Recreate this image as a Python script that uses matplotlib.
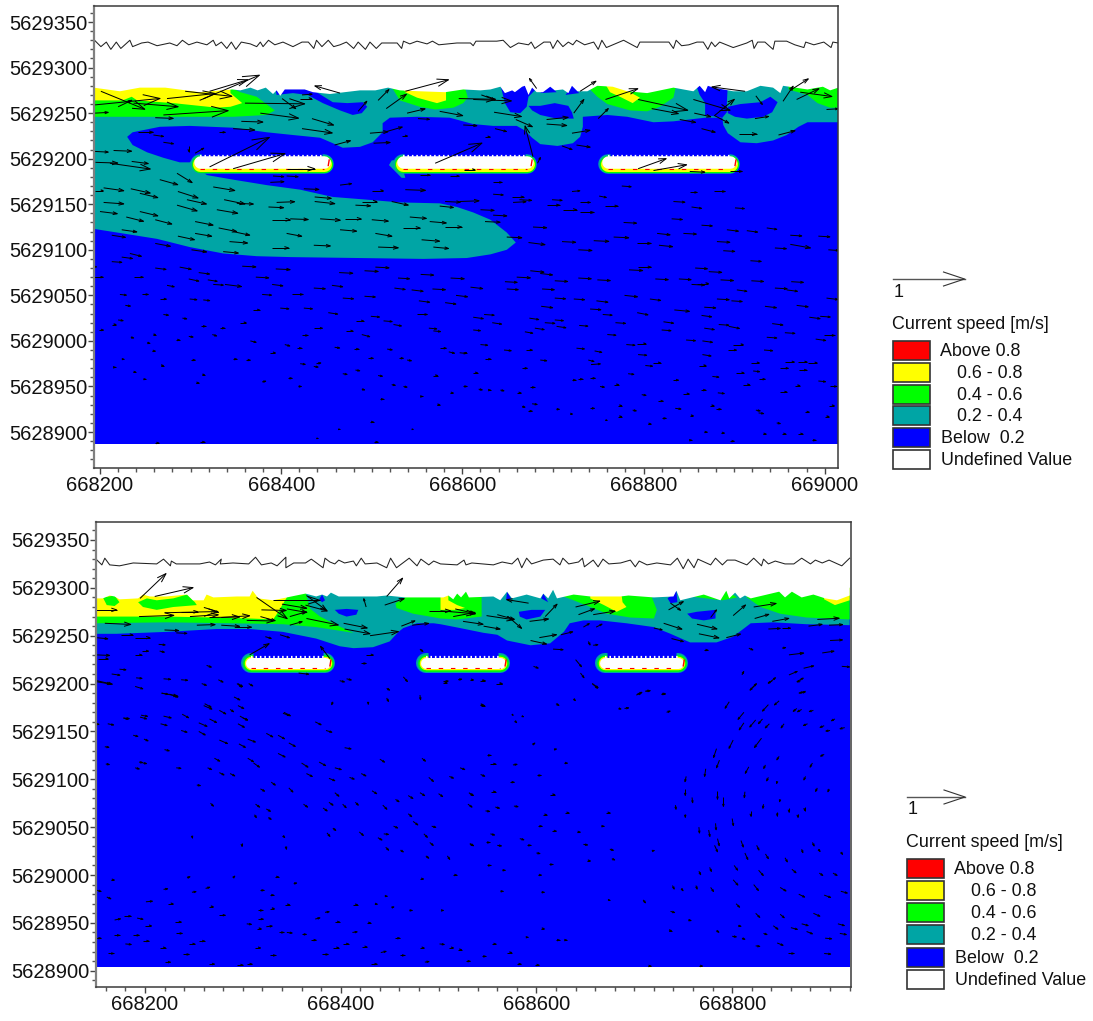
import numpy as np
import matplotlib
matplotlib.use('Agg')
import matplotlib.pyplot as plt
from matplotlib.collections import LineCollection
from matplotlib.patches import Polygon, Rectangle
from matplotlib.ticker import MultipleLocator

plt.rcParams['font.family'] = ['Liberation Sans', 'DejaVu Sans']

# all positions below are metres from this origin
EAST0 = 668000
NORTH0 = 5628900

RED = '#ff0000'
YELLOW = '#ffff00'
GREEN = '#00ff00'
TEAL = '#00a5a5'
BLUE = '#0000ff'

legend_labels = ['Above 0.8', '0.6 - 0.8', '0.4 - 0.6', '0.2 - 0.4', 'Below  0.2', 'Undefined Value']
legend_colors = [RED, YELLOW, GREEN, TEAL, BLUE, '#ffffff']

top_xticks = [668200, 668400, 668600, 668800, 669000]
bottom_xticks = [668200, 668400, 668600, 668800]
yticks = [5628900, 5628950, 5629000, 5629050, 5629100, 5629150, 5629200, 5629250, 5629300, 5629350]

# ---------- upper panel ----------
top_shore = [(193,378),(222,374),(244,378),(272,378),(310,373),(346,376),(355,375),(366,378),(374,375),(383,378),(391,371),(395,375),(399,369),(404,376),(426,376),(435,373),(454,371),(470,373),(487,375),(504,375),(518,378),(531,375),(553,374),(581,373),(601,376),(620,375),(631,376),(642,379),(647,372),(655,375),(658,373),(666,379),(669,380),(673,370),(677,378),(682,373),(689,373),(697,379),(702,375),(711,376),(717,372),(721,380),(727,374),(738,374),(749,380),(766,379),(782,374),(804,372),(833,378),(855,374),(862,380),(868,373),(871,380),(877,378),(899,374),(914,374),(929,380),(943,378),(951,372),(954,380),(981,376),(998,379),(1006,375),(1015,378)]
top_line_e = [194,201,207,212,218,223,233,236,246,253,263,277,285,291,298,307,318,325,328,334,340,345,350,356,366,373,377,380,386,393,402,413,423,430,436,439,445,452,458,465,472,480,485,493,498,505,511,528,533,535,542,550,561,567,574,594,609,612,615,638,645,653,662,673,676,680,690,697,700,705,711,717,722,726,735,745,750,754,759,778,793,796,813,828,833,836,842,850,859,866,871,875,879,884,899,914,920,922,926,934,943,945,958,967,977,979,988,999,1007,1009,1015]
top_line_n = [430,423,428,420,428,421,430,423,427,428,424,427,424,430,425,428,425,430,424,428,421,428,420,428,426,423,428,423,430,425,428,423,428,428,421,430,423,430,423,425,428,421,428,420,428,421,427,427,421,429,426,429,426,429,425,427,427,424,429,429,430,422,427,425,428,421,428,428,421,430,423,428,425,430,425,428,420,430,422,430,422,428,428,428,421,430,424,425,428,428,420,428,423,428,422,427,430,421,428,428,420,429,429,425,422,428,425,428,422,428,427]

top_teal = [(193,385),(1015,385),(1015,340),(981,340),(971,335),(958,326),(943,320),(925,317),(907,318),(893,328),(888,337),(887,345),(868,345),(833,341),(811,340),(782,346),(760,348),(733,346),(733,335),(730,324),(722,317),(705,314),(686,316),(677,323),(669,331),(660,336),(634,336),(612,338),(586,345),(550,346),(520,345),(512,339),(512,329),(501,318),(487,313),(468,312),(457,317),(443,323),(413,326),(384,329),(347,334),(299,336),(266,335),(236,329),(230,324),(236,315),(252,307),(270,301),(288,296),(299,296),(307,302),(307,290),(318,282),(347,277),(384,271),(421,266),(457,258),(495,255),(531,252),(575,251),(594,247),(612,241),(631,233),(649,219),(659,208),(649,200),(631,195),(605,191),(557,190),(484,191),(410,192),(373,193),(336,196),(299,203),(263,212),(225,218),(193,223)]
top_teal_blob = [(522,298),(528,299),(534,290),(537,279),(533,279),(525,287),(519,293)]
top_blue = [
    [(393,381),(426,381),(457,362),(473,361),(490,362),(495,357),(489,350),(479,348),(465,353),(446,361),(429,370),(413,372),(395,370)],
    [(642,381),(686,381),(673,368),(671,357),(664,350),(653,351),(647,361)],
    [(714,370),(721,381),(729,372)],
    [(686,372),(697,381),(704,373)],
    [(673,358),(686,358),(702,361),(717,358),(721,351),(723,344),(704,344),(686,348),(677,353)],
    [(858,381),(893,381),(892,361),(892,351),(887,345),(868,348),(868,361),(862,370)],
    [(893,357),(907,360),(929,362),(940,368),(948,362),(942,351),(932,346),(914,344),(901,346),(893,350)],
]
top_green = [
    [(193,385),(340,385),(344,378),(355,373),(373,368),(393,353),(384,348),(347,346),(274,346),(219,346),(193,346)],
    [(518,385),(531,364),(553,357),(570,354),(590,356),(601,361),(606,367),(601,385)],
    [(739,385),(739,378),(749,368),(760,360),(785,353),(804,352),(818,357),(833,367),(837,385)],
    [(960,385),(960,376),(981,370),(992,361),(1006,356),(1015,356),(1015,385)],
]
top_yellow = [
    [(193,385),(344,385),(344,372),(357,361),(344,357),(329,356),(281,361),(241,364),(235,368),(225,364),(193,364)],
    [(531,385),(582,385),(582,364),(572,361),(550,367),(537,373)],
    [(756,385),(771,385),(785,373),(796,367),(788,361),(776,367),(763,373)],
]
top_wall_start = [310, 534, 761]
top_wall_end = [447, 671, 896]
top_wall_n = 296
top_blue_bottom = -13
top_blue_top = 385

# arrows: east, north, u [m/s], v [m/s]
top_arrows_band = [(201,374,.61,-.25),(194,359,.91,.09),(220,357,.19,.09),(194,350,.19,.01),(237,361,.62,-.05),(274,366,.67,.07),(294,374,.65,-.07),(310,364,.83,.35),(321,374,.53,.16),(270,348,.90,.06),(261,345,.25,-.01),(360,361,.83,-.01),(377,350,.53,-.07),(401,366,.19,-.14),(423,370,.14,.01),(421,366,.16,0),(465,372,-.35,.10),(434,344,.30,-.09),(423,333,.42,-.06),(356,341,.30,-.01),(347,333,.30,-.02),(459,315,.22,.06),(485,352,.12,.14),(507,364,.15,.15),(516,355,.28,.20),(537,374,.60,.16),(539,350,.25,.06),(498,328,.25,.02),(517,330,.21,.06),(502,317,.23,.01),(533,325,.08,0),(551,344,.16,-.01),(321,291,.83,.41),(347,289,.72,.21),(305,306,.12,.07),(298,314,0,-.08),(406,289,.39,0),(242,329,.21,0),(259,326,.14,-.02),(270,318,.14,-.02),(331,329,.09,0),
    (596,366,.51,-.01),(612,365,.53,-.02),(621,370,.19,-.07),(575,352,.32,-.06),(635,351,.38,-.06),(659,343,.23,-.10),(693,343,.30,.03),(693,338,.28,-.02),(721,328,.25,.04),(678,302,-.11,.43),(683,295,.04,.08),(570,295,.65,.28),(625,324,.07,0),(723,350,.14,.19),(730,374,.22,.14),(750,344,.14,.14),(758,365,.45,.15),(794,365,.69,-.15),(809,355,.37,-.07),(840,343,.22,-.04),(855,365,.51,-.15),(864,333,.19,-.05),(905,327,.25,0),(949,326,.23,.06),(923,344,.19,.03),(924,369,.09,-.12),(878,347,.28,.23),(879,347,.19,-.10),(856,350,.23,-.05),(912,374,-.46,.06),(954,363,.14,.21),(962,375,.25,.16),(969,365,.31,.15),(973,373,.44,-.06),(1002,354,.16,.01),(682,377,-.10,.14),(601,337,.19,-.01),(636,333,.16,-.04),(710,314,.14,-.05),(726,315,.19,-.03),(794,289,.39,.14),(811,287,.46,.08),(851,286,.21,-.01),(896,286,.16,0)]
top_arrows_plume = [(215,309,.25,-.01),(194,308,.19,-.01),(195,296,.31,-.01),(211,295,.56,-.08),(235,297,.23,-.03),(285,284,.21,-.13),(266,277,.25,-.07),(194,265,.12,0),(204,268,.28,-.04),(234,267,.27,-.06),(244,262,.25,-.06),(286,264,.28,-.09),(296,255,.27,-.06),(325,269,.30,-.05),(337,255,.29,-.06),(351,251,.23,-.01),(395,252,.25,.01),(386,247,.21,-.01),(437,258,.23,-.02),(437,253,.28,-.03),(204,252,.28,-.02),(200,242,.24,-.03),(244,242,.25,-.06),(229,236,.24,-.06),(261,233,.23,-.06),(285,249,.28,-.08),(329,244,.29,-.05),(305,231,.25,-.05),(390,233,.25,0),(410,234,.25,-.01),(331,224,.25,-.05),(347,220,.23,-.05),(470,234,.23,0),(500,233,.23,-.02),(443,234,.28,-.02),(465,222,.23,-.02),(406,218,.21,-.04),(504,218,.23,-.04),(535,224,.23,0),(224,222,.21,-.03),(305,218,.23,-.04),(286,215,.23,-.05),(343,209,.25,-.02),(390,202,.23,0),(436,205,.23,-.01),(507,203,.28,-.01),(261,207,.21,-.04),(213,216,.19,-.03),(301,200,.21,-.03),(336,198,.21,-.02),(555,211,.25,-.02),(568,203,.21,-.02),(542,236,.23,-.02),(564,231,.23,-.02),(522,253,.23,-.05),(489,253,.21,0),(482,249,.21,-.01),(537,266,.28,-.01),(500,265,.16,0),(465,271,.16,.02),(425,267,.21,-.01),(388,274,.19,.01),(391,281,.15,-.01),(406,281,.16,-.01),(553,282,.14,0)]
top_arrows_mid = [(586,281,.13,0),(634,274,.12,0),(602,288,.15,0),(634,261,.14,-.01),(655,258,.16,0),(663,255,.17,-.01),(656,252,.18,.01),(721,264,.11,.01),(699,255,.14,-.01),(693,249,.18,0),(730,252,.14,0),(711,244,.19,0),(730,241,.19,0),(758,248,.17,0),(751,259,.10,-.02),(776,270,.13,-.01),(833,253,.16,-.01),(853,247,.14,-.02),(901,246,.13,-.01),(851,263,.10,0),(878,264,.15,0),(620,244,.19,-.01),(634,238,.19,-.01),(575,248,.19,-.02),(581,253,.21,-.01),(597,253,.27,.01),(778,230,.18,-.01),(831,234,.15,-.01),(864,227,.15,-.01),(892,222,.16,-.02),(914,221,.15,-.02),(936,224,.14,-.02),(678,225,.19,-.01),(625,231,.21,-.01),(581,225,.23,0),(649,214,.21,-.01),(673,208,.23,-.03),(710,209,.19,-.01),(728,200,.19,-.01),(745,210,.21,-.01),(767,214,.21,-.01),(793,207,.19,0),(817,205,.19,-.02),(881,209,.18,-.01),(844,218,.18,-.01),(815,218,.18,-.02),(962,216,.16,-.01),(945,202,.16,-.01),(962,206,.28,-.05),(993,215,.16,-.01),(888,199,.16,-.01),(918,188,.15,-.01),(1004,200,.14,-.01)]
top_arrows_west = [(233,196,.16,-.04),(224,192,.15,-.02),(213,187,.14,-.01),(189,182,.09,-.01),(193,170,.13,0),(238,170,.12,0),(261,180,.15,-.02),(288,181,.16,-.03),(309,175,.15,-.02),(298,168,.14,-.03),(319,167,.13,-.02),(325,162,.14,-.01),(338,162,.23,-.03),(274,161,.10,-.02),(357,182,.19,-.01),(372,170,.18,-.01),(394,179,.20,-.01),(390,162,.15,-.02),(436,158,.16,-.01),(456,161,.15,-.02),(464,175,.19,-.01),(492,177,.19,-.01),(504,181,.19,-.01),(529,169,.16,-.01),(554,173,.18,-.01),(587,169,.19,-.01),(525,158,.15,-.02),(544,156,.16,-.02),(567,157,.18,-.01),(593,150,.16,-.02),(552,144,.15,-.02),(581,142,.15,-.02),(492,149,.15,-.01),(468,147,.15,-.01),(412,151,.15,0),(379,151,.13,-.01),(222,151,.09,-.01),(246,151,.09,0),(266,146,.09,0),(299,146,.10,-.01),(314,145,.09,-.01),(228,139,.07,-.01),(270,129,.07,-.01),(291,125,.06,-.01),(220,123,.07,-.01),(213,118,.06,0),(199,112,.06,0),(311,116,.07,0),(332,114,.07,0),(355,120,.08,0),(369,134,.09,0),(399,136,.12,-.01),(425,136,.12,-.01),(452,131,.13,-.02),(483,122,.10,0),(499,127,.12,-.01),(513,122,.12,-.01),(524,118,.11,-.02),(550,129,.14,0),(563,114,.11,-.01),(568,111,.10,-.01),(436,114,.12,0),(472,111,.09,0),(489,107,.11,-.03),(423,106,.08,0),(324,107,.06,-.02),(298,105,.06,-.01),(366,100,.08,-.02),(404,96,.07,-.02),(417,92,.07,0),(459,93,.07,-.01),(480,91,.07,0),(517,91,.07,-.01),(575,92,.09,0),(585,88,.08,-.02),(597,87,.09,-.01),(388,87,.07,0),(301,79,.05,0),(347,80,.05,0),(361,79,.06,0),(224,80,.03,0),(214,71,.04,0),(267,73,.04,0),(421,75,.07,-.01),(436,72,.06,-.01),(439,75,.06,.01),(496,81,.07,0),(530,81,.06,0),(539,79,.06,-.01),(482,68,.06,-.01),(468,64,.06,-.01),(507,62,.06,-.01),(568,62,.06,0),(586,43,.05,0),(408,59,.05,0),(379,55,.05,.01),(306,54,.04,0),(237,66,.03,0),(248,58,.03,0),(313,63,.03,0),(259,107,.03,0),(284,101,.05,0),(252,98,.04,-.01),(234,104,.04,-.01),(257,89,.05,0),(419,50,.04,0),(489,47,.04,-.01),(522,52,.05,-.01),(535,50,.05,-.01),(553,39,.04,0),(509,36,.05,0),(572,30,.04,0),(498,11,.05,0),(463,3,.02,0),(544,3,.02,0),(439,-7,.02,0),(502,-11,.06,0),(310,-11,.07,0),(261,-12,.05,0),(601,50,.05,0)]
top_arrows_east = [(675,177,.19,-.02),(686,174,.17,-.02),(660,170,.19,-.01),(647,165,.17,-.01),(609,159,.17,-.02),(649,157,.16,-.01),(688,157,.17,-.01),(702,166,.18,-.01),(728,169,.18,-.01),(749,167,.18,-.01),(784,178,.19,-.01),(794,181,.18,0),(813,168,.18,-.01),(839,168,.17,-.01),(853,162,.18,-.01),(859,163,.16,0),(885,167,.18,-.01),(872,176,.18,-.01),(857,180,.17,-.01),(903,156,.14,-.02),(919,166,.17,-.01),(945,158,.17,-.01),(958,156,.15,-.02),(963,165,.17,-.01),(702,147,.15,-.01),(723,146,.15,-.01),(748,144,.16,-.02),(779,150,.18,-.02),(807,146,.15,-.02),(881,146,.17,-.01),(897,144,.15,-.01),(934,138,.16,-.02),(969,139,.16,-.02),(1002,147,.16,-.02),(687,138,.16,-.02),(741,135,.15,-.01),(755,129,.13,-.01),(793,131,.15,-.03),(834,134,.21,-.02),(867,137,.16,-.01),(864,128,.14,-.02),(822,121,.14,-.02),(867,114,.14,-.02),(883,118,.14,-.01),(894,116,.15,-.03),(942,119,.15,-.02),(983,126,.15,-.02),(995,127,.14,-.01),(624,129,.14,-.01),(612,126,.14,-.02),(674,125,.13,-.02),(633,120,.13,-.02),(691,120,.14,-.01),(702,123,.12,-.01),(704,116,.13,-.02),(729,117,.12,-.01),(769,120,.14,-.01),(612,112,.10,-.01),(680,114,.13,-.02),(669,110,.11,-.02),(820,112,.13,-.01),(760,107,.12,-.01),(956,109,.14,-.01),(999,106,.15,0),(936,104,.14,-.01),(990,102,.14,-.02),(847,101,.13,-.01),(865,100,.14,-.02),(899,96,.14,0),(781,96,.12,-.01),(793,97,.12,0),(893,90,.12,0),(933,90,.12,-.01),(726,92,.11,-.01),(746,89,.10,-.02),(646,90,.10,-.01),(670,90,.09,0),(620,96,.10,-.01),(865,85,.12,-.02),(794,85,.12,-.01),(686,79,.09,-.01),(739,79,.08,-.02),(742,74,.13,.01),(810,76,.11,0),(802,73,.10,-.01),(861,73,.10,0),(919,76,.11,0),(956,77,.13,0),(970,77,.13,0),(982,76,.12,0),(951,70,.11,0),(972,68,.10,0),(921,67,.09,-.01),(902,65,.11,0),(927,58,.09,0),(783,64,.08,-.01),(876,61,.09,-.01),(967,51,.07,0),(993,56,.10,-.01),(1006,50,.09,0),(910,52,.09,0),(721,57,.05,0),(728,58,.06,0),(741,59,.07,0),(767,52,.07,0),(752,50,.06,-.01),(833,57,.07,0),(844,42,.08,0),(863,46,.07,0),(882,43,.09,-.01),(951,44,.09,0),(798,41,.06,-.01),(816,34,.07,0),(835,26,.08,-.01),(873,29,.06,0),(880,25,.07,0),(924,24,.06,-.01),(927,21,.07,-.01),(978,22,.06,0),(1005,29,.07,0),(1000,17,.06,0),(772,29,.05,0),(741,26,.06,0),(788,24,.05,-.01),(703,25,.05,0),(772,17,.05,0),(820,15,.06,0),(851,18,.05,0),(867,0,.04,0),(886,-1,.04,0),(932,-2,.04,0),(953,-2,.05,0),(971,-2,.06,0),(986,-9,.05,0),(947,10,.05,-.01),(850,-9,.04,0),(896,-10,.05,0),(660,43,.06,0),(642,46,.05,-.01),(618,47,.05,-.01),(628,46,.04,0),(612,65,.06,0),(666,70,.07,0),(675,49,.06,0),(677,31,.07,-.01),(666,28,.04,-.01),(673,23,.05,0),(719,20,.03,0),(758,13,.02,0),(805,9,.04,0),(625,80,.08,0),(603,87,.02,0)]

# ---------- lower panel ----------
bottom_shore = [(150,389),(157,389),(164,392),(169,391),(174,388),(193,389),(198,393),(205,391),(222,391),(243,393),(249,387),(260,387),(263,393),(270,390),(294,391),(307,391),(310,397),(316,389),(331,387),(345,390),(364,394),(375,391),(381,393),(386,391),(390,395),(398,391),(421,391),(437,391),(447,392),(466,390),(481,390),(505,390),(510,392),(515,388),(519,394),(523,390),(528,396),(531,390),(556,391),(563,387),(570,396),(575,389),(590,393),(604,389),(607,394),(612,389),(617,398),(621,389),(638,393),(655,391),(686,391),(694,392),(720,390),(740,391),(743,397),(747,387),(771,393),(788,387),(794,397),(797,389),(803,395),(808,389),(813,392),(819,389),(848,396),(854,390),(861,396),(871,390),(883,393),(895,389),(907,387),(920,392)]
bottom_line_e = [150,156,159,164,174,188,212,219,226,227,232,256,266,272,278,277,290,306,313,319,329,335,344,344,352,364,370,382,384,389,394,398,404,413,416,421,425,437,447,451,457,470,478,482,490,495,502,519,526,528,534,556,565,575,581,585,590,595,607,617,624,627,633,643,647,649,658,663,668,674,686,696,701,705,713,723,737,744,750,755,761,765,778,783,790,795,803,815,822,830,832,837,844,854,863,871,880,885,892,899,912,920]
bottom_line_n = [430,424,431,424,423,426,425,430,423,428,425,425,427,424,430,425,426,425,432,424,426,423,432,421,426,426,430,421,431,427,425,429,426,428,423,431,425,426,421,431,421,431,423,430,424,428,425,424,429,424,426,424,427,425,431,421,431,425,429,430,424,431,425,427,431,422,429,422,430,425,426,429,422,428,424,426,424,431,420,430,421,430,424,431,424,429,429,424,431,423,430,425,428,425,425,431,425,429,426,429,423,431]

bottom_teal = [(150,400),(920,400),(920,361),(876,362),(842,364),(819,363),(801,349),(784,343),(757,343),(737,352),(720,359),(692,363),(665,366),(648,366),(634,363),(628,354),(614,342),(594,340),(570,345),(560,351),(546,353),(522,358),(502,362),(495,363),(478,363),(464,358),(459,354),(450,344),(433,338),(413,337),(399,339),(375,347),(341,354),(307,357),(273,357),(222,354),(171,352),(150,352)]
bottom_green = [
    [(150,363),(222,364),(290,363),(341,362),(375,359),(413,353),(396,361),(379,370),(369,378),(365,392),(365,400),(150,400)],
    [(456,384),(466,390),(466,400),(544,400),(544,370),(519,367),(502,368),(491,370),(474,373),(457,379)],
    [(623,400),(720,400),(718,390),(723,377),(720,368),(696,369),(672,373),(655,380),(638,387),(625,392)],
    [(757,391),(790,387),(805,390),(790,400),(757,400)],
    [(813,400),(920,400),(920,367),(876,369),(849,373),(829,380),(815,390)],
]
bottom_yellow = [
    [(150,400),(345,400),(345,390),(335,373),(331,367),(307,368),(273,369),(222,370),(150,370)],
    [(502,400),(510,400),(510,387),(519,382),(527,379),(517,377),(502,377)],
    [(655,400),(686,400),(688,385),(692,380),(682,375),(669,382),(655,389)],
    [(892,400),(920,400),(920,387),(905,382),(894,388)],
]
bottom_green_spots = [
    [(157,390),(169,392),(174,385),(169,381),(161,382)],
    [(193,385),(202,389),(212,387),(229,389),(243,393),(251,385),(253,382),(229,380),(212,377),(198,380)],
]
bottom_blue = [
    [(394,377),(406,378),(418,377),(416,372),(406,370),(398,373)],
    [(378,388),(381,393),(384,387),(381,385)],
    [(582,375),(595,377),(609,377),(604,370),(590,367),(583,370)],
    [(569,387),(570,396),(574,389)],
    [(605,389),(607,394),(612,385)],
    [(754,373),(764,375),(783,377),(783,368),(771,366),(759,368)],
    [(734,389),(743,397),(744,385),(737,384)],
]
bottom_wall_start = [308, 487, 670]
bottom_wall_end = [384, 563, 745]
bottom_wall_n = 322
bottom_blue_bottom = 4
bottom_blue_top = 400

bottom_arrows_band = [(195,389,.44,.42),(210,391,.65,.15),(150,377,.35,0),(194,370,.59,.02),(159,363,.44,-.02),(220,374,.90,.02),(246,370,.48,.03),(237,375,.28,0),(265,378,.17,-.06),(220,356,.24,-.01),(232,353,.18,-.01),(253,361,.31,.01),(278,361,.31,-.02),(292,359,.28,0),(278,369,.48,.03),(266,369,.51,.01),(318,370,.25,-.07),(304,366,.45,-.01),(314,390,.52,-.36),(319,377,.42,-.01),(331,387,.79,0),(340,383,.42,-.07),(345,378,.34,-.06),(348,370,.28,.08),(348,361,.21,.06),(365,392,.34,-.25),(364,382,.37,-.10),(365,368,.54,-.11),(403,363,.40,-.08),(404,357,.43,-.08),(430,350,.48,.07),(462,360,.23,.09),(473,361,.28,.03),(426,380,-.04,.14),(447,391,.27,.31),(445,382,.33,.11),(490,376,.37,0),(150,348,.20,-.02),(176,351,.19,0),(190,348,.25,0),(323,349,.10,-.03),(338,351,.16,-.05),(307,330,.33,.19),(389,326,-.16,.21),
    (502,376,.59,-.05),(517,378,.34,-.08),(515,370,.37,.07),(525,365,.34,-.05),(546,360,.28,-.05),(549,371,.46,-.07),(560,372,.29,-.08),(571,370,.23,-.20),(592,384,-.37,.06),(593,365,.32,.04),(609,370,.20,.21),(603,348,.29,.05),(594,345,.27,-.06),(625,351,.20,.05),(640,380,.41,.10),(643,372,.27,.10),(658,372,.37,.06),(648,359,.10,.06),(661,359,.10,.05),(730,363,.31,-.10),(764,362,.34,-.08),(766,352,.34,-.07),(794,348,.24,.06),(801,371,.21,.18),(778,369,.10,.13),(822,380,.38,.06),(823,368,.24,.07),(841,365,.28,.05),(887,367,.37,.02),(735,377,.25,.14),(737,384,.17,-.12),(878,360,.23,.03),(899,361,.23,.01),(837,357,.20,.01),(851,358,.14,0),(720,358,.14,-.03),(738,347,.20,-.05)]
bottom_arrows_near = [(214,341,.11,-.01),(215,334,.08,-.02),(190,330,.11,0),(150,330,.23,-.01),(152,326,.17,0),(197,334,.11,0),(166,310,.14,-.02),(174,315,.11,-.01),(150,302,.25,-.04),(191,306,.10,-.01),(219,305,.12,-.01),(217,290,.27,-.05),(229,288,.08,-.03),(263,319,.08,-.03),(237,304,.11,-.01),(275,304,.08,-.04),(294,300,.08,-.06),(306,300,.07,-.04),(357,311,.17,-.02),(399,303,.08,-.02),(406,305,.08,-.02),(464,307,.07,-.08),(447,295,.05,-.03),(481,336,.05,-.04),(426,330,.12,0),(421,321,.08,0),(505,302,.08,.01),(260,277,.14,-.06),(287,273,.06,-.04),(195,265,.11,-.03),(178,264,.10,-.01),(341,269,.11,-.04),(300,264,.08,-.03),(447,285,.03,-.06),(481,288,.01,-.08),(428,281,0,-.04),(392,281,-.02,-.05),
    (617,336,.17,-.01),(653,344,.03,-.06),(658,340,.08,.01),(640,325,.10,-.12),(645,311,.06,-.08),(657,300,.09,-.08),(597,318,.08,-.03),(560,300,.08,0),(542,303,.08,0),(532,304,.06,0),(520,304,.06,.01),(505,301,.06,0),(542,278,.06,0),(703,289,.08,.03),(711,292,.08,.01),(728,289,.06,.01),(771,335,.07,0),(817,337,.07,-.03),(851,337,.06,.01),(858,330,.25,.03),(892,332,.20,.03),(900,345,.21,.01),(912,318,.13,-.01),(873,316,.17,.04),(858,309,.14,.06),(866,302,.11,.06),(868,290,.11,.02),(837,300,.12,.10),(818,293,.11,.11),(810,309,.03,.06)]
bottom_arrows_west = [(151,303,.26,-.06),(190,297,.13,-.04),(217,290,.11,-.02),(225,289,.14,-.05),(258,300,.08,-.03),(291,286,.10,-.05),(295,300,.08,-.05),(261,279,.11,-.06),(276,272,.11,-.06),(295,277,.10,-.05),(297,266,.13,-.07),(196,267,.11,-.02),(219,266,.13,-.03),(238,268,.11,-.06),(178,264,.08,-.02),(162,258,.10,-.02),(147,258,.10,-.01),(216,258,.11,-.03),(255,259,.14,-.06),(266,263,.12,-.06),(295,258,.11,-.06),(342,270,.11,-.06),(374,260,.10,-.05),(385,251,.10,-.03),(237,251,.10,-.03),(255,250,.11,-.06),(188,246,.08,-.02),(199,242,.07,-.03),(220,231,.08,-.02),(276,241,.14,-.06),(305,242,.13,-.05),(296,237,.11,-.06),(324,248,.11,-.06),(336,246,.11,-.06),(347,238,.11,-.06),(404,233,.11,-.02),(336,227,.12,-.06),(271,222,.09,-.05),(305,222,.10,-.06),(311,217,.10,-.07),(360,217,.11,-.07),(378,218,.11,-.06),(394,212,.11,-.03),(440,221,.08,-.05),(483,222,.06,-.05),(522,212,.08,-.03),(159,234,.07,-.01),(160,216,.06,-.01),(194,218,.06,-.01),(198,217,.06,-.01),(190,212,.07,-.02),(232,212,.08,-.01),(264,212,.07,-.03),(276,207,.08,-.04),(287,206,.08,-.04),(365,206,.10,-.05),(388,201,.10,-.04),(409,202,.08,-.03),(421,206,.08,-.04),(490,202,.08,-.07),(511,203,.07,-.03),(329,197,.07,-.05),(347,191,.07,-.07),(318,190,.07,-.04),(253,194,.06,-.01),(394,186,.07,-.06),(432,188,.08,-.05),(456,179,.06,-.04),(469,183,.08,-.05),(481,186,.08,-.05),(500,185,.07,-.05),(531,186,.07,-.05),(530,174,.07,-.05),(443,173,.07,-.07),(415,176,.05,-.05),(402,174,.06,-.06),(388,176,.07,-.05),(382,170,.07,-.05),(362,174,.07,-.05),(313,174,.07,-.05),(324,169,.07,-.04),(326,160,.05,-.03),(267,175,.05,-.05),(312,163,.03,-.05),(469,164,.06,-.05),(474,156,.08,-.06),(454,151,.07,-.03),(493,151,.07,-.02),(392,149,.05,-.04),(419,145,.07,-.06),(444,143,.08,-.01),(438,139,.07,-.04),(386,144,.05,-.06),(485,143,.06,-.06),(491,134,.06,-.05),(532,133,.06,-.04),(446,129,.05,-.05),(461,126,.05,-.03),(487,120,.05,-.04),(509,120,.04,-.06),(341,141,.03,-.03),(344,130,.01,-.05),(248,141,.01,-.04),(299,133,0,-.05)]
bottom_arrows_sw = [(165,95,.06,0),(243,97,.05,.02),(290,97,.03,.03),(151,84,.07,-.02),(161,77,.07,-.03),(219,85,.07,.01),(248,82,.07,.01),(262,86,.07,.02),(201,72,.11,.01),(224,70,.08,0),(265,67,.08,0),(276,58,.10,0),(179,57,.11,0),(192,55,.10,-.02),(169,53,.10,.02),(231,51,.10,0),(200,47,.11,0),(232,39,.10,0),(168,37,.10,0),(188,37,.10,0),(149,34,.10,0),(180,28,.10,-.01),(198,31,.10,0),(245,28,.10,0),(255,31,.10,0),(215,24,.10,0),(162,18,.10,0),(239,17,.10,0),(220,9,.10,0),(265,7,.10,0),(294,6,.10,0),(304,7,.09,0),(312,24,.10,0),(328,16,.09,0),(381,17,.10,0),(392,24,.10,0),(402,28,.10,0),(422,25,.08,0),(441,19,.09,.02),(461,16,.07,0),(481,24,.07,0),(501,28,.08,-.01),(511,24,.07,0),(520,22,.06,0),(528,10,.07,0),(486,9,.07,.01),(431,7,.10,0),(455,34,.09,0),(412,40,.08,.01),(394,51,.08,0),(427,50,.06,0),(374,54,.08,.02),(384,61,.07,.01),(413,69,.07,0),(435,70,.04,-.01),(452,66,.04,.01),(470,63,.05,0),(502,63,.05,0),(343,69,.08,0),(328,65,.07,0),(316,63,.07,0),(316,54,.08,0),(304,49,.08,-.01),(314,44,.08,0),(324,46,.10,.01),(337,40,.08,0),(345,40,.09,-.01),(360,38,.08,0),(370,32,.08,0),(328,79,.06,0),(445,78,.04,0),(318,84,.06,0),(515,100,.06,0),(481,96,.06,0),(333,98,.06,0),(352,91,.05,.01)]
bottom_arrows_vortex = [(657,300,.10,-.07),(543,303,.08,0),(559,300,.10,0),(702,288,.08,.03),(712,292,.07,.01),(727,289,.07,0),(825,300,-.11,-.11),(841,303,-.07,-.04),(870,303,-.06,-.02),(875,292,-.10,-.03),(848,282,-.08,-.07),(837,278,-.10,-.11),(797,281,-.07,-.11),(812,270,-.10,-.12),(866,274,-.06,-.05),(871,273,-.07,-.04),(883,272,-.07,-.02),(812,259,-.08,-.12),(824,262,-.10,-.12),(831,263,-.07,-.08),(838,258,-.07,-.07),(853,258,-.05,-.07),(877,258,-.07,-.03),(894,256,-.07,-.03),(900,251,-.07,-.01),(905,263,-.06,-.03),(915,254,-.08,-.02),(801,241,-.07,-.14),(830,243,-.12,-.16),(784,232,-.05,-.15),(787,220,-.05,-.13),(817,213,-.06,-.11),(773,211,-.02,-.13),(753,203,-.02,-.09),(834,215,-.03,-.06),(848,224,-.04,-.06),(894,226,-.06,-.03),(882,217,-.04,-.07),(837,202,-.03,-.06),(846,198,-.01,-.04),(875,203,-.03,-.06),(887,191,-.03,-.06),(899,190,-.02,-.05),(752,190,0,-.11),(785,188,0,-.14),(813,187,-.01,-.10),(759,181,.01,-.09),(791,181,0,-.15),(742,173,.01,-.07),(832,174,-.01,-.07),(819,167,0,-.09),(846,166,0,-.07),(858,170,0,-.07),(874,171,0,-.06),(867,164,0,-.06),(849,179,-.01,-.04),(752,164,0,-.06),(800,159,.02,-.12),(783,154,.01,-.11),(766,150,.01,-.10),(776,147,.02,-.11),(785,138,.03,-.12),(782,131,.05,-.11),(809,136,.04,-.11),(825,131,.04,-.08),(813,123,.05,-.11),(834,122,.05,-.08),(854,118,.04,-.07),(871,127,.02,-.06),(882,134,.03,-.06),(888,127,.03,-.04),(911,124,.03,-.04),(802,110,.06,-.08),(827,105,.08,-.09),(861,106,.07,-.06),(889,102,.06,-.04),(903,102,.07,-.04),(777,108,.03,-.07),(766,104,.03,-.06),(801,95,.08,-.09),(822,90,.08,-.10),(849,87,.10,-.06),(868,80,.10,-.05),(894,79,.11,-.04),(911,83,.11,-.03),(778,87,.05,-.07),(763,89,.02,-.06),(739,89,.03,-.06),(748,86,.03,-.04),(804,70,.06,-.06),(824,60,.07,-.07),(849,59,.07,-.06),(883,60,.11,-.05),(842,47,.08,-.06),(860,45,.11,-.03),(871,49,.11,-.03),(876,41,.10,-.04),(908,49,.11,-.03),(910,39,.11,-.02),(895,34,.11,-.01),(846,29,.10,-.04),(832,39,.06,-.02),(806,47,.05,-.01),(800,36,.07,-.01),(810,34,.05,-.02),(824,26,.07,-.01),(857,18,.10,0),(894,18,.11,-.01)]
bottom_arrows_centre = [(684,274,.04,-.01),(690,274,.07,.01),(543,277,.07,0),(620,279,.05,-.03),(638,284,.03,-.03),(733,270,.06,.02),(575,268,.02,-.02),(578,261,.03,-.03),(585,266,.03,-.01),(596,236,.04,.03),(618,231,.04,.01),(549,225,.07,0),(553,216,.09,0),(576,215,.07,.01),(628,217,.06,0),(543,205,.07,-.03),(601,204,.06,0),(573,197,.07,0),(614,184,.08,0),(554,187,.07,0),(532,185,.06,-.03),(558,171,.07,-.02),(577,172,.07,-.01),(548,167,.07,-.01),(629,165,.07,0),(607,163,.06,0),(671,165,.07,0),(602,151,.06,0),(616,146,.07,0),(641,145,.06,0),(666,151,.05,0),(553,143,.07,-.02),(583,138,.07,-.02),(548,134,.07,0),(532,132,.06,-.02),(560,131,.07,-.01),(590,131,.07,0),(600,123,.06,-.01),(648,132,.07,-.01),(675,127,.06,-.02),(652,115,.05,0),(677,117,.05,-.02),(718,125,.04,.01),(549,110,.07,0),(565,105,.05,0),(613,111,.06,0),(602,100,.05,0),(563,83,.05,0),(605,82,.05,0),(673,74,.03,0),(709,74,.04,-.05),(737,62,.07,-.02),(755,53,.05,-.01),(784,42,.04,-.03),(735,42,.05,0),(605,44,.05,0),(589,35,.04,0),(620,32,.06,0),(628,32,.05,0),(555,28,.06,0),(544,15,.07,0),(570,19,.08,0),(580,7,.07,0),(599,6,.06,0),(714,5,.05,0),(766,5,.06,0)]


def to_map(points):
    pts = np.array(points, dtype=float)
    pts[:, 0] += EAST0
    pts[:, 1] += NORTH0
    return pts


def fill(ax, points, color, z):
    ax.add_patch(Polygon(to_map(points), closed=True, facecolor=color, edgecolor='none', zorder=z))


# straight shaft plus an open V head, sized in pixels so it does not depend on the axes scale
def draw_arrows(ax, rows, px_per_ms):
    rows = np.array(rows, dtype=float)
    rows[:, 0] += EAST0
    rows[:, 1] += NORTH0
    tail = ax.transData.transform(rows[:, :2])
    delta = rows[:, 2:] * px_per_ms
    tip = tail + delta
    length = np.hypot(delta[:, 0], delta[:, 1])
    # small arrows keep a visible head, they read as a blob at this size
    head = np.minimum(np.maximum(0.27 * length, 2.6), length)
    back = -delta * (head / length)[:, None]
    c, s = np.cos(np.radians(18)), np.sin(np.radians(18))
    left = tip + np.c_[c * back[:, 0] - s * back[:, 1], s * back[:, 0] + c * back[:, 1]]
    right = tip + np.c_[c * back[:, 0] + s * back[:, 1], -s * back[:, 0] + c * back[:, 1]]
    inv = ax.transData.inverted()
    segs = []
    for a, b, l, r in zip(inv.transform(tail), inv.transform(tip), inv.transform(left), inv.transform(right)):
        segs.append([a, b])
        segs.append([l, b, r])
    ax.add_collection(LineCollection(segs, colors='k', linewidths=0.72, zorder=9))


def draw_wall(ax, start, end, n, px_n, halo, white, off):
    # px_n is metres per pixel north, so the rim can be shifted by whole pixels
    pt = 0.72
    for e0, e1 in zip(start, end):
        xs = [EAST0 + e0, EAST0 + e1]
        y = NORTH0 + n
        mid = (halo + white + 2.5) / 2
        for col, wide, k in [(TEAL, halo, 1.0), (GREEN, mid, 0.85), (YELLOW, white + 2.5, 0.6)]:
            yy = y + off * k * px_n
            ax.plot(xs, [yy, yy], color=col, lw=wide * pt, solid_capstyle='round', zorder=7)
        # sea colour comes back over the upper rim between the round ends
        yb = y + (white / 2 + 2.5) * px_n
        ax.plot([xs[0] + 2, xs[1] - 2], [yb, yb], color=BLUE, lw=5 * pt, solid_capstyle='butt', zorder=7.5)
        ax.plot(xs, [y, y], color='white', lw=white * pt, solid_capstyle='round', zorder=8)
        # broken red line along the lower rim, and the two ends
        yr = y - white / 2 * px_n
        ax.plot(xs, [yr, yr], color=RED, lw=0.8, dashes=(4, 7), zorder=8.5)
        ax.plot([xs[1] + 6, xs[1] + 5], [y + 2.5, y - 3.5], color=RED, lw=1.0, zorder=8.5)
        # teeth along the upper edge
        yt = y + white / 2 * px_n
        ax.plot(xs, [yt, yt], color='white', lw=1.6, dashes=(0.7, 1.3), zorder=8)


def style_axes(ax, xticks):
    ax.set_xticks(xticks)
    ax.set_xticklabels([str(t) for t in xticks], fontsize=14.5)
    ax.set_yticks(yticks)
    ax.set_yticklabels([str(t) for t in yticks], fontsize=14.5)
    ax.xaxis.set_minor_locator(MultipleLocator(20))
    ax.yaxis.set_minor_locator(MultipleLocator(10))
    ax.tick_params(which='major', length=4, width=1, color='#444444', labelcolor='#111111')
    ax.tick_params(axis='x', which='major', pad=1.5)
    ax.tick_params(axis='y', which='major', pad=1)
    ax.tick_params(which='minor', length=3, width=1, color='#555555')
    for sp in ax.spines.values():
        sp.set_color('#3a3a3a')
        sp.set_linewidth(1.1)
        sp.set_zorder(20)
    ax.spines['left'].set_color('#808080')
    ax.spines['left'].set_linewidth(1.6)


W, H = 1093, 1021
fig = plt.figure(figsize=(W / 100, H / 100), dpi=100)


def panel(left, right, top, bottom):
    return fig.add_axes([left / W, 1 - bottom / H, (right - left) / W, (bottom - top) / H])


ax1 = panel(94, 838.3, 6, 468)
ax1.set_xlim(668193.4, 669015)
ax1.set_ylim(5628860.5, 5629367.6)
ax2 = panel(96, 850.6, 522, 987)
ax2.set_xlim(668150, 668921)
ax2.set_ylim(5628883, 5629368.8)

# upper panel
ax1.add_patch(Rectangle((EAST0 + 193, NORTH0 + top_blue_bottom), 822, top_blue_top - top_blue_bottom, facecolor=BLUE, edgecolor='none', zorder=1))
fill(ax1, top_teal, TEAL, 2)
fill(ax1, top_teal_blob, TEAL, 2)
for p in top_blue:
    fill(ax1, p, BLUE, 3)
for p in top_green:
    fill(ax1, p, GREEN, 4)
for p in top_yellow:
    fill(ax1, p, YELLOW, 5)
fill(ax1, top_shore + [(1015, 400), (193, 400)], 'white', 6)
ax1.plot(EAST0 + np.array(top_line_e), NORTH0 + np.array(top_line_n), color='#222222', lw=0.75, zorder=7)
draw_wall(ax1, top_wall_start, top_wall_end, top_wall_n, 1.098, 19.5, 12.5, -2)
for rows in [top_arrows_band, top_arrows_plume, top_arrows_mid, top_arrows_west, top_arrows_east]:
    draw_arrows(ax1, rows, 72)
style_axes(ax1, top_xticks)

# lower panel
ax2.add_patch(Rectangle((EAST0 + 150, NORTH0 + bottom_blue_bottom), 770, bottom_blue_top - bottom_blue_bottom, facecolor=BLUE, edgecolor='none', zorder=1))
fill(ax2, bottom_teal, TEAL, 2)
for p in bottom_green:
    fill(ax2, p, GREEN, 3)
for p in bottom_yellow:
    fill(ax2, p, YELLOW, 4)
for p in bottom_green_spots:
    fill(ax2, p, GREEN, 5)
for p in bottom_blue:
    fill(ax2, p, BLUE, 5)
fill(ax2, bottom_shore + [(920, 410), (150, 410)], 'white', 6)
ax2.plot(EAST0 + np.array(bottom_line_e), NORTH0 + np.array(bottom_line_n), color='#222222', lw=0.75, zorder=7)
draw_wall(ax2, bottom_wall_start, bottom_wall_end, bottom_wall_n, 1.044, 20, 11, -0.8)
for rows in [bottom_arrows_band, bottom_arrows_near, bottom_arrows_west, bottom_arrows_sw, bottom_arrows_vortex, bottom_arrows_centre]:
    draw_arrows(ax2, rows, 59)
style_axes(ax2, bottom_xticks)

# legends live on an overlay in pixel coordinates
ov = fig.add_axes([0, 0, 1, 1])
ov.set_xlim(0, W)
ov.set_ylim(H, 0)
ov.axis('off')
ov.patch.set_alpha(0)

label_dx = [47.5, 64.5, 64.5, 64.5, 48.5, 48.5]


def legend(x0, y_arrow, arrow_len, y_one, y_title, y_rows):
    x1 = x0 + arrow_len
    ov.plot([x0, x1], [y_arrow, y_arrow], color='#555555', lw=1)
    ov.plot([x1 - 21, x1, x1 - 21], [y_arrow - 7, y_arrow, y_arrow + 7], color='#333333', lw=0.8)
    ov.text(x0 + 1, y_one, '1', fontsize=12.9, va='center', ha='left', color='#111111')
    ov.text(x0, y_title + 1, 'Current speed [m/s]', fontsize=12.9, va='center', ha='left', color='#111111')
    for y, lab, col, dx in zip(y_rows, legend_labels, legend_colors, label_dx):
        ov.add_patch(Rectangle((x0, y - 9), 37.5, 19, facecolor=col, edgecolor='#333333', lw=1.2))
        ov.text(x0 + dx, y + 1, lab, fontsize=12.9, va='center', ha='left', color='#111111')


legend(892.5, 279, 72, 292, 323, [350, 372, 394, 415, 437, 459])
legend(906.5, 797, 58.5, 809, 841, [868, 890, 912, 934, 957, 979])

fig.savefig('out.png', dpi=100)
